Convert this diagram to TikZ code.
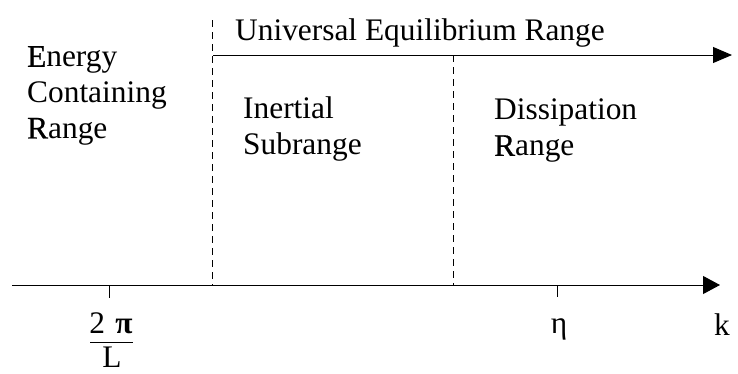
\documentclass[tikz,border=0pt]{standalone}
\usepackage{fontspec}
\setmainfont{Liberation Serif}
\newfontfamily\semibold[FakeBold=0.8]{Liberation Serif}
\usetikzlibrary{arrows.meta, positioning, calc}

\begin{document}
\begin{tikzpicture}[x=1bp, y=-1bp,
    lbl/.style={inner sep=0pt, align=left, font=\fontsize{31.5}{36}\selectfont},
    axarr/.style={-{Triangle[length=17bp, width=18bp]}, line width=1bp},
    toparr/.style={-{Triangle[length=19bp, width=16bp]}, line width=1bp},
    sep/.style={dash pattern=on 7bp off 5bp, line width=0.9bp},
    tick/.style={line width=0.9bp}
  ]
  \useasboundingbox (0,0) rectangle (738,373);

  % axes
  \coordinate (axstart) at (12,285);
  \coordinate (axend) at (720,285);
  \coordinate (topstart) at (213,55);
  \coordinate (topend) at (732,55);
  \draw[axarr] (axstart) -- (axend);
  \draw[toparr] (topstart) -- (topend);

  % range separators
  \coordinate (sepA) at (212,20);
  \coordinate (sepAbot) at (212,285);
  \coordinate (sepB) at (453,55);
  \coordinate (sepBbot) at (453,285);
  \draw[sep] (sepA) -- (sepAbot);
  \draw[sep] (sepB) -- (sepBbot);

  % ticks
  \coordinate (tickL) at (109,285);
  \coordinate (tickEta) at (557,285);
  \draw[tick] (tickL) -- ++(0,13);
  \draw[tick] (tickEta) -- ++(0,12);

  % range labels
  \node[lbl, anchor=base west] (univ) at (235,40) {Universal Equilibrium Range};
  \node[lbl, anchor=north west] (energy) at (27,46) {{\semibold E}nergy\\Containing\\{\semibold R}ange};
  \node[lbl, anchor=north west] (inertial) at (243,97) {Inertial\\Subrange};
  \node[lbl, anchor=north west] (dissip) at (494,99) {Dissipation\\{\semibold R}ange};

  % axis labels
  \node[lbl, anchor=base] (twopi) at (111,333) {2\,\,\textbf{π}};
  \draw[line width=0.9bp] (90,342) -- (133,342);
  \node[lbl, anchor=base] (ell) at (112,367) {L};
  \node[lbl, anchor=base] (eta) at (559,333) {η};
  \node[lbl, anchor=base] (kay) at (722,335) {k};
\end{tikzpicture}
\end{document}
